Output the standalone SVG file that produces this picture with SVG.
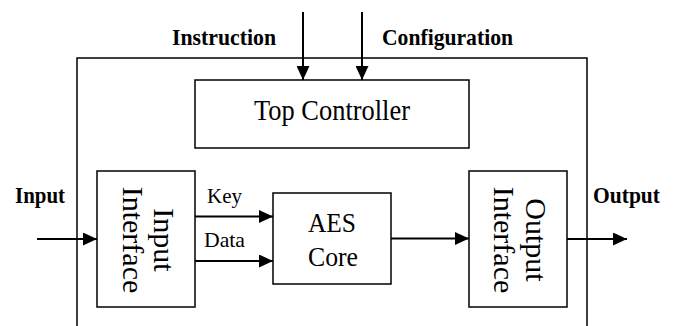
<svg xmlns="http://www.w3.org/2000/svg" width="673" height="326" viewBox="0 0 673 326">
  <style>
    .box { fill: #fff; stroke: #000; stroke-width: 1.5; }
    .frame { fill: none; stroke: #000; stroke-width: 1.5; }
    .wire { stroke: #000; stroke-width: 2; fill: none; }
    .lbl { font-family: "Liberation Serif", "Times New Roman", serif; fill: #000; }
    .bold { font-weight: bold; }
  </style>
  <defs>
    <marker id="ah" markerWidth="14" markerHeight="13" refX="14" refY="6.5" orient="auto" markerUnits="userSpaceOnUse">
      <path d="M0,0 L14,6.5 L0,13 Z" fill="#000"/>
    </marker>
  </defs>

  <!-- enclosing system boundary (open at the bottom) -->
  <path class="frame" d="M77,326 V58 H587 V326"/>

  <!-- external port labels -->
  <g id="labels">
    <text class="lbl bold" x="172" y="45" font-size="24" textLength="104" lengthAdjust="spacingAndGlyphs">Instruction</text>
    <text class="lbl bold" x="382" y="45" font-size="24" textLength="131" lengthAdjust="spacingAndGlyphs">Configuration</text>
    <text class="lbl bold" x="15" y="203" font-size="23" textLength="50" lengthAdjust="spacingAndGlyphs">Input</text>
    <text class="lbl bold" x="593" y="203" font-size="23" textLength="67" lengthAdjust="spacingAndGlyphs">Output</text>
  </g>

  <g id="top-controller">
    <rect class="box" x="195" y="80" width="274" height="68"/>
    <text class="lbl" x="254" y="119.5" font-size="30" textLength="156" lengthAdjust="spacingAndGlyphs">Top Controller</text>
  </g>

  <g id="input-interface">
    <rect class="box" x="97" y="171" width="98" height="136"/>
    <text class="lbl" font-size="30" text-anchor="middle" transform="translate(154,240) rotate(90)">Input</text>
    <text class="lbl" font-size="30" text-anchor="middle" transform="translate(123,240) rotate(90)">Interface</text>
  </g>

  <g id="aes-core">
    <rect class="box" x="273" y="193" width="118" height="91"/>
    <text class="lbl" x="308" y="232" font-size="28" textLength="48" lengthAdjust="spacingAndGlyphs">AES</text>
    <text class="lbl" x="308" y="266" font-size="28" textLength="50" lengthAdjust="spacingAndGlyphs">Core</text>
  </g>

  <g id="output-interface">
    <rect class="box" x="469" y="171" width="98" height="136"/>
    <text class="lbl" font-size="30" text-anchor="middle" transform="translate(526,240) rotate(90)">Output</text>
    <text class="lbl" font-size="30" text-anchor="middle" transform="translate(494,240) rotate(90)">Interface</text>
  </g>

  <g id="connectors">
    <line class="wire" x1="303" y1="12" x2="303" y2="80" marker-end="url(#ah)"/>
    <line class="wire" x1="362" y1="12" x2="362" y2="80" marker-end="url(#ah)"/>
    <line class="wire" x1="37" y1="239" x2="97" y2="239" marker-end="url(#ah)"/>
    <line class="wire" x1="195" y1="216.5" x2="273" y2="216.5" marker-end="url(#ah)"/>
    <line class="wire" x1="195" y1="261" x2="273" y2="261" marker-end="url(#ah)"/>
    <line class="wire" x1="391" y1="238.5" x2="469" y2="238.5" marker-end="url(#ah)"/>
    <line class="wire" x1="567" y1="239" x2="627" y2="239" marker-end="url(#ah)"/>
    <text class="lbl" x="207" y="203" font-size="21" textLength="35" lengthAdjust="spacingAndGlyphs">Key</text>
    <text class="lbl" x="204" y="247" font-size="21" textLength="41" lengthAdjust="spacingAndGlyphs">Data</text>
  </g>
</svg>
